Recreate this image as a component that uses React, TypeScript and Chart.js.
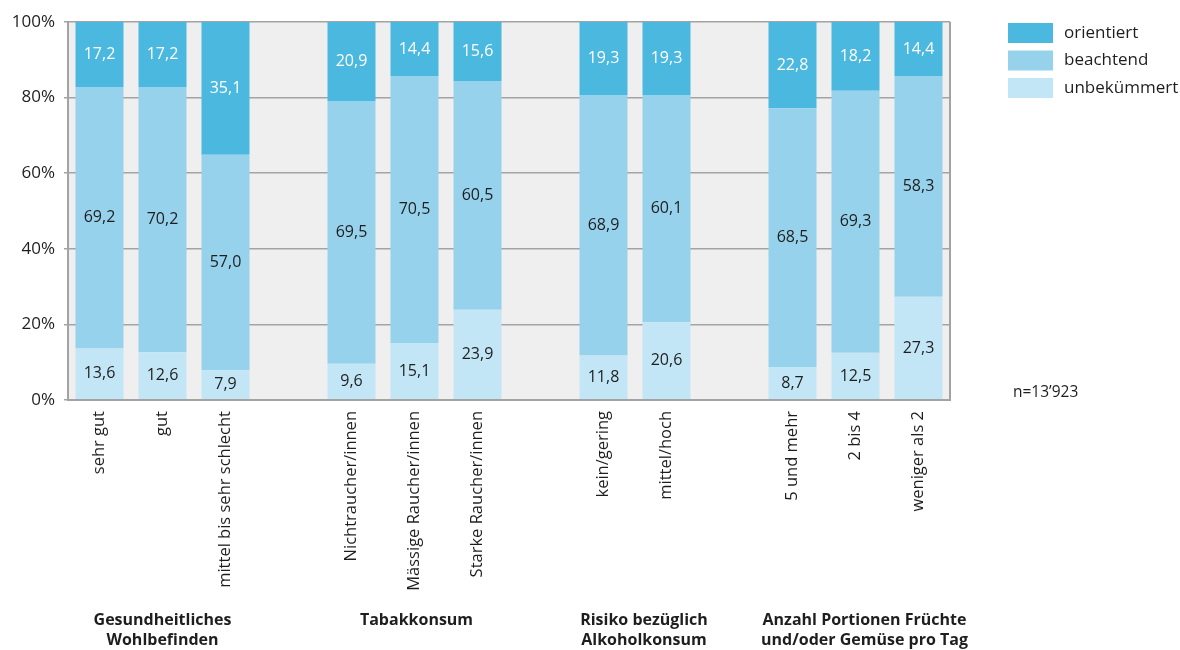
import React, { useEffect, useRef } from "react";
import { Chart, registerables } from "chart.js";

Chart.register(...registerables);

const categories = [
  "sehr gut", "gut", "mittel bis sehr schlecht", "",
  "Nichtraucher/innen", "Mässige Raucher/innen", "Starke Raucher/innen", "",
  "kein/gering", "mittel/hoch", "",
  "5 und mehr", "2 bis 4", "weniger als 2",
];
const unbekuemmert = [13.6, 12.6, 7.9, null, 9.6, 15.1, 23.9, null, 11.8, 20.6, null, 8.7, 12.5, 27.3];
const beachtend = [69.2, 70.2, 57.0, null, 69.5, 70.5, 60.5, null, 68.9, 60.1, null, 68.5, 69.3, 58.3];
const orientiert = [17.2, 17.2, 35.1, null, 20.9, 14.4, 15.6, null, 19.3, 19.3, null, 22.8, 18.2, 14.4];
const yTicks = [0, 20, 40, 60, 80, 100];
const groupLabels = [
  { lines: ["Gesundheitliches", "Wohlbefinden"], from: 0, to: 2 },
  { lines: ["Tabakkonsum"], from: 4, to: 6 },
  { lines: ["Risiko bezüglich", "Alkoholkonsum"], from: 8, to: 9 },
  { lines: ["Anzahl Portionen Früchte", "und/oder Gemüse pro Tag"], from: 11, to: 13 },
];
const sampleNote = "n=13’923";

const COLORS = {
  orientiert: "#4bb8e0",
  beachtend: "#97d2ec",
  unbekuemmert: "#c3e6f6",
};
const FONT = "'Open Sans', 'DejaVu Sans', sans-serif";
const TEXT = "#1e1e1e";
const GRID = "#a3a3a3";
const GROUP_SHIFT = [0, 2, 9, 9];

const fmt = (v: number) => v.toFixed(1).replace(".", ",");

const decorPlugin = {
  id: "decor",
  beforeDraw(chart: any) {
    const { ctx, chartArea } = chart;
    ctx.save();
    ctx.fillStyle = "#efefef";
    ctx.fillRect(chartArea.left, chartArea.top, chartArea.right - chartArea.left, chartArea.bottom - chartArea.top);
    ctx.restore();
  },
  afterDatasetsDraw(chart: any) {
    const { ctx, chartArea } = chart;
    ctx.save();
    ctx.font = `16px ${FONT}`;
    ctx.textAlign = "center";
    ctx.textBaseline = "middle";
    chart.data.datasets.forEach((ds: any, di: number) => {
      const meta = chart.getDatasetMeta(di);
      meta.data.forEach((el: any, i: number) => {
        const v = ds.data[i];
        if (v === null || v === undefined) return;
        ctx.fillStyle = ds.label === "orientiert" ? "#ffffff" : TEXT;
        ctx.fillText(fmt(v), el.x, (el.y + el.base) / 2);
      });
    });
    ctx.strokeStyle = GRID;
    ctx.lineWidth = 2;
    ctx.beginPath();
    ctx.moveTo(chartArea.left, chartArea.top);
    ctx.lineTo(chartArea.left, chartArea.bottom);
    ctx.lineTo(chartArea.right, chartArea.bottom);
    ctx.lineTo(chartArea.right, chartArea.top);
    ctx.stroke();
    ctx.restore();
  },
  afterDraw(chart: any) {
    const { ctx } = chart;
    const xs = chart.scales.x;
    ctx.save();
    ctx.font = `bold 16px ${FONT}`;
    ctx.fillStyle = TEXT;
    ctx.textAlign = "center";
    ctx.textBaseline = "middle";
    groupLabels.forEach((g, gi) => {
      const cx = (xs.getPixelForValue(g.from) + xs.getPixelForValue(g.to)) / 2 + GROUP_SHIFT[gi];
      g.lines.forEach((line, li) => {
        ctx.fillText(line, cx, 620 + li * 20);
      });
    });
    const legend = [
      { label: "orientiert", color: COLORS.orientiert },
      { label: "beachtend", color: COLORS.beachtend },
      { label: "unbekümmert", color: COLORS.unbekuemmert },
    ];
    ctx.textAlign = "left";
    ctx.font = `17px ${FONT}`;
    legend.forEach((item, i) => {
      const y = 23 + i * 27.5;
      ctx.fillStyle = item.color;
      ctx.fillRect(1008, y, 45, 20);
      ctx.fillStyle = TEXT;
      ctx.fillText(item.label, 1064, y + 10);
    });
    ctx.font = `15.5px ${FONT}`;
    ctx.fillText(sampleNote, 1013, 393);
    ctx.restore();
  },
};

export default function App() {
  const canvasRef = useRef<HTMLCanvasElement | null>(null);

  useEffect(() => {
    document.body.style.margin = "0";
    const canvas = canvasRef.current;
    if (!canvas) return;
    const chart = new Chart(canvas, {
      type: "bar",
      data: {
        labels: categories,
        datasets: [
          { label: "unbekümmert", data: unbekuemmert, backgroundColor: COLORS.unbekuemmert },
          { label: "beachtend", data: beachtend, backgroundColor: COLORS.beachtend },
          { label: "orientiert", data: orientiert, backgroundColor: COLORS.orientiert },
        ],
      },
      options: {
        responsive: false,
        animation: false,
        devicePixelRatio: 1,
        layout: { padding: { top: 22, right: 230, bottom: 0, left: 0 } },
        plugins: {
          legend: { display: false },
          tooltip: { enabled: false },
        },
        datasets: {
          bar: { categoryPercentage: 1, barPercentage: 0.762, borderWidth: 0 },
        },
        scales: {
          x: {
            stacked: true,
            grid: { display: false },
            border: { display: false },
            ticks: {
              autoSkip: false,
              maxRotation: 90,
              minRotation: 90,
              padding: 3,
              color: TEXT,
              font: { family: FONT, size: 16.5 },
            },
            afterFit: (scale: any) => {
              scale.height = 250;
            },
          },
          y: {
            stacked: true,
            min: 0,
            max: 100,
            afterBuildTicks: (scale: any) => {
              scale.ticks = yTicks.map((v) => ({ value: v }));
            },
            grid: { color: GRID, lineWidth: 1.5, tickLength: 4 },
            border: { display: true, color: GRID, width: 2 },
            ticks: {
              padding: 9,
              color: TEXT,
              font: { family: FONT, size: 17 },
              callback: (v: any) => `${v}%`,
            },
            afterFit: (scale: any) => {
              scale.width = 68;
            },
          },
        },
      },
      plugins: [decorPlugin],
    });
    return () => chart.destroy();
  }, []);

  return (
    <div style={{ position: "absolute", left: 0, top: 0, width: 1180, height: 650 }}>
      <canvas ref={canvasRef} width={1180} height={650} />
    </div>
  );
}
